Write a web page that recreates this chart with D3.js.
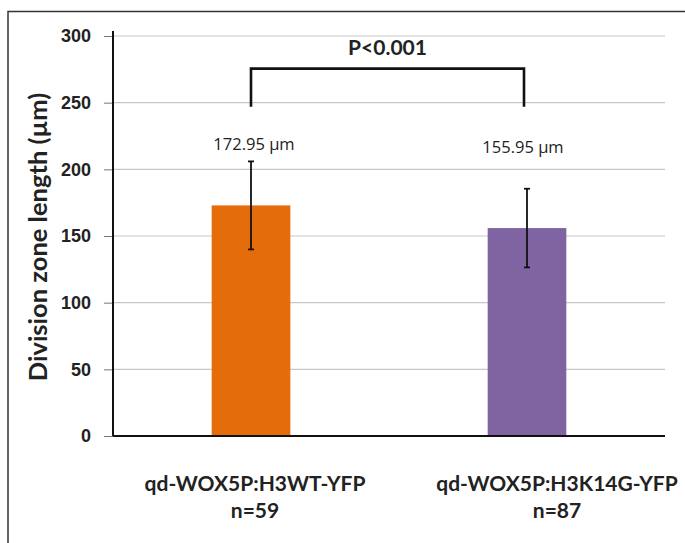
<!DOCTYPE html>
<html><head><meta charset="utf-8">
<script src="https://cdn.jsdelivr.net/npm/d3@7"></script>
<style>
html,body{margin:0;padding:0;background:#fff;}
svg{display:block;font-family:Lato,"Open Sans",sans-serif;}
</style></head>
<body>
<svg id="chart" width="685" height="543"></svg>
<script>
const categories = ["qd-WOX5P:H3WT-YFP", "qd-WOX5P:H3K14G-YFP"];
const sampleSizes = ["n=59", "n=87"];
const means = [172.95, 155.95];
const sds = [33, 29.5];
const valueLabels = ["172.95 µm", "155.95 µm"];
const colors = ["#E46C0A", "#8064A2"];
const yTicks = [0, 50, 100, 150, 200, 250, 300];
const bracketValues = {top: 275.5, bottom: 247};
const pLabel = "P<0.001";
const yTitle = "Division zone length (µm)";

(function(){
const svg = d3.select("#chart");
const mLeft = 113, mRight = 665, mTop = 36, mBottom = 436;

// frame
svg.append("path").attr("d", "M8,543 V11.5 H685").attr("fill","none").attr("stroke","#333").attr("stroke-width",1.5);

const y = d3.scaleLinear().domain([0,300]).range([mBottom, mTop]);
const x = d3.scaleBand().domain(categories).range([mLeft, mRight]).paddingInner(0).paddingOuter(0);
const barW = x.bandwidth()*0.285;

// gridlines
svg.append("g").selectAll("line").data(yTicks.filter(d=>d>0)).join("line")
  .attr("x1", mLeft).attr("x2", mRight)
  .attr("y1", d=>y(d)).attr("y2", d=>y(d))
  .attr("stroke", "#c8c8c8").attr("stroke-width", 1.2);

// y axis
const yAxis = d3.axisLeft(y).tickValues(yTicks).tickSize(9).tickPadding(13);
const gy = svg.append("g").attr("transform", `translate(${mLeft},0)`).call(yAxis);
gy.select(".domain").remove();
gy.selectAll(".tick line").attr("stroke","#777").attr("stroke-width",1);
gy.selectAll("text").attr("font-size", 18).attr("font-weight", 700).attr("fill","#222");
svg.append("line").attr("x1", mLeft).attr("x2", mLeft).attr("y1", mTop-5).attr("y2", mBottom)
  .attr("stroke","#111").attr("stroke-width",2);

// bars
svg.append("g").selectAll("rect").data(categories).join("rect")
  .attr("x", d=>x(d)+x.bandwidth()/2-barW/2)
  .attr("width", barW)
  .attr("y", (d,i)=>y(means[i]))
  .attr("height", (d,i)=>y(0)-y(means[i]))
  .attr("fill", (d,i)=>colors[i]);

// x axis line
svg.append("line").attr("x1", mLeft).attr("x2", mRight).attr("y1", mBottom).attr("y2", mBottom)
  .attr("stroke","#111").attr("stroke-width",2);

// error bars
const eb = svg.append("g");
const labelShift = [4, 30];
categories.forEach((c,i)=>{
  const cx = x(c)+x.bandwidth()/2;
  eb.append("line").attr("x1",cx).attr("x2",cx).attr("y1",y(means[i]+sds[i])).attr("y2",y(means[i]-sds[i]))
    .attr("stroke","#111").attr("stroke-width",1.8);
  [means[i]+sds[i], means[i]-sds[i]].forEach(v=>{
    eb.append("line").attr("x1",cx-3).attr("x2",cx+3).attr("y1",y(v)).attr("y2",y(v))
      .attr("stroke","#111").attr("stroke-width",1.8);
  });
  svg.append("text").attr("x", cx+(i===1?-4:3)).attr("y", y(means[i]+sds[i]) - (i===0?11:36))
    .attr("text-anchor","middle").attr("font-size",16.5).attr("font-family","'Open Sans',Lato,sans-serif")
    .attr("fill","#222").text(valueLabels[i]);
  svg.append("text").attr("x", cx + labelShift[i]).attr("y", 491)
    .attr("text-anchor","middle").attr("font-size",21).attr("font-weight",700).attr("fill","#222")
    .text(c);
  svg.append("text").attr("x", cx + labelShift[i]).attr("y", 518)
    .attr("text-anchor","middle").attr("font-size",21).attr("font-weight",700).attr("fill","#222")
    .text(sampleSizes[i]);
});

// bracket
const bx1 = x(categories[0])+x.bandwidth()/2, bx2 = x(categories[1])+x.bandwidth()/2 - 3;
svg.append("path")
  .attr("d", `M${bx1},${y(bracketValues.bottom)} V${y(bracketValues.top)} H${bx2} V${y(bracketValues.bottom)}`)
  .attr("fill","none").attr("stroke","#111").attr("stroke-width",2.6);
svg.append("text").attr("x", (bx1+bx2)/2).attr("y", 55).attr("text-anchor","middle")
  .attr("font-size",21).attr("font-weight",700).attr("fill","#222").text(pLabel);

// y title
svg.append("text").attr("transform", `translate(47,237) rotate(-90)`)
  .attr("text-anchor","middle").attr("font-size",25.5).attr("font-weight",700).attr("fill","#222")
  .text(yTitle);
})();
</script>
</body></html>
